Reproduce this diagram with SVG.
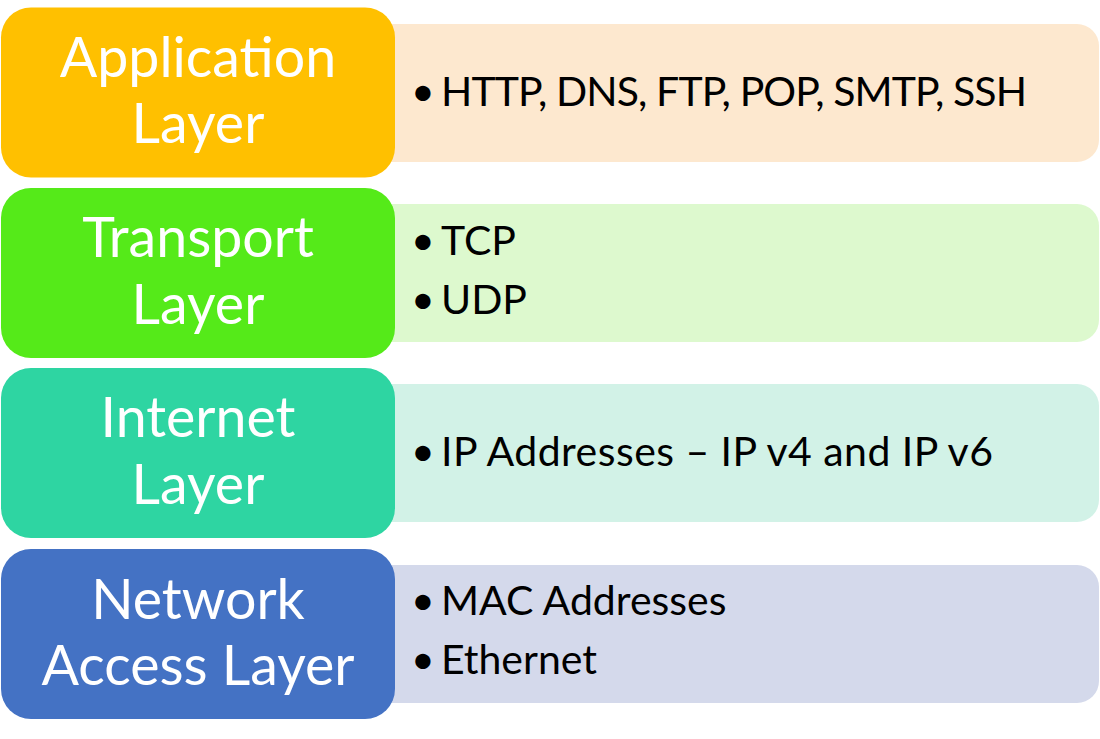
<svg xmlns="http://www.w3.org/2000/svg" width="1100" height="739" viewBox="0 0 1100 739">
<style>
.lbl{font-family:Lato,"Open Sans","Liberation Sans",sans-serif;font-size:55.5px;fill:#ffffff;text-anchor:middle}
.itm{font-family:Lato,"Open Sans","Liberation Sans",sans-serif;font-size:41px;fill:#000000}
</style>
<rect width="1100" height="739" fill="#ffffff"/>
<g id="application">
<path d="M380,24 H1077 A22,22 0 0 1 1099,46 V140 A22,22 0 0 1 1077,162 H380 Z" fill="#FDE8CF"/>
<rect x="1" y="7.5" width="394" height="170" rx="30" fill="#FFC000"/>
<text class="lbl" x="198" y="77">Application</text>
<text class="lbl" x="198" y="143">Layer</text>
<text class="itm" y="106"><tspan x="411">•</tspan><tspan x="441" textLength="586" lengthAdjust="spacing">HTTP, DNS, FTP, POP, SMTP, SSH</tspan></text>
</g>
<g id="transport">
<path d="M380,204 H1077 A22,22 0 0 1 1099,226 V320 A22,22 0 0 1 1077,342 H380 Z" fill="#DDF9CE"/>
<rect x="1" y="188" width="394" height="170" rx="30" fill="#55EA19"/>
<text class="lbl" x="198" y="257">Transport</text>
<text class="lbl" x="198" y="324">Layer</text>
<text class="itm" y="255"><tspan x="411">•</tspan><tspan x="441">TCP</tspan></text>
<text class="itm" y="314"><tspan x="411">•</tspan><tspan x="441">UDP</tspan></text>
</g>
<g id="internet">
<path d="M380,384 H1077 A22,22 0 0 1 1099,406 V500 A22,22 0 0 1 1077,522 H380 Z" fill="#D2F2E7"/>
<rect x="1" y="368" width="394" height="170" rx="30" fill="#2ED5A2"/>
<text class="lbl" x="198" y="437">Internet</text>
<text class="lbl" x="198" y="504">Layer</text>
<text class="itm" y="466"><tspan x="411">•</tspan><tspan x="441" textLength="552" lengthAdjust="spacing">IP Addresses – IP v4 and IP v6</tspan></text>
</g>
<g id="network-access">
<path d="M380,565 H1077 A22,22 0 0 1 1099,587 V681 A22,22 0 0 1 1077,703 H380 Z" fill="#D4D9EB"/>
<rect x="1" y="549" width="394" height="170" rx="30" fill="#4472C4"/>
<text class="lbl" x="198" y="619">Network</text>
<text class="lbl" x="198" y="685">Access Layer</text>
<text class="itm" y="615"><tspan x="411">•</tspan><tspan x="441">MAC Addresses</tspan></text>
<text class="itm" y="674"><tspan x="411">•</tspan><tspan x="441">Ethernet</tspan></text>
</g>
<g id="connectors"></g>
</svg>
